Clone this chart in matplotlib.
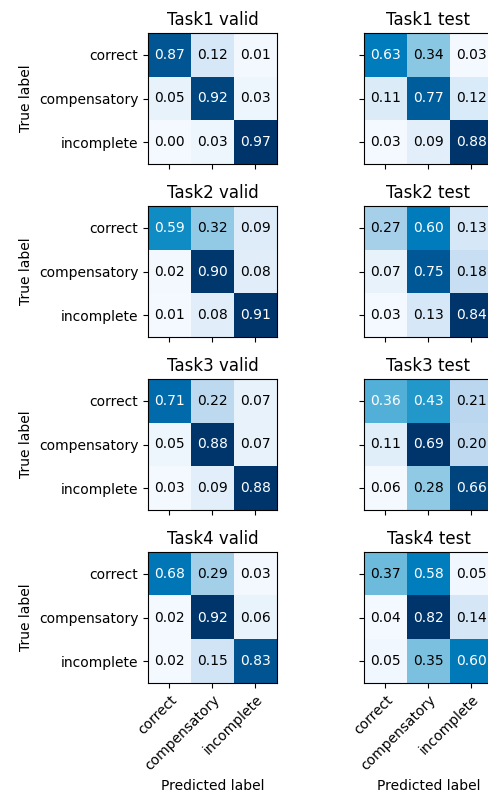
import numpy as np
import matplotlib
matplotlib.use("Agg")
import matplotlib.pyplot as plt
from matplotlib.colors import ListedColormap, rgb_to_hsv, hsv_to_rgb

classes = ["correct", "compensatory", "incomplete"]

task1_valid = [[0.87, 0.12, 0.01], [0.05, 0.92, 0.03], [0.00, 0.03, 0.97]]
task1_test = [[0.63, 0.34, 0.03], [0.11, 0.77, 0.12], [0.03, 0.09, 0.88]]
task2_valid = [[0.59, 0.32, 0.09], [0.02, 0.90, 0.08], [0.01, 0.08, 0.91]]
task2_test = [[0.27, 0.60, 0.13], [0.07, 0.75, 0.18], [0.03, 0.13, 0.84]]
task3_valid = [[0.71, 0.22, 0.07], [0.05, 0.88, 0.07], [0.03, 0.09, 0.88]]
task3_test = [[0.36, 0.43, 0.21], [0.11, 0.69, 0.20], [0.06, 0.28, 0.66]]
task4_valid = [[0.68, 0.29, 0.03], [0.02, 0.92, 0.06], [0.02, 0.15, 0.83]]
task4_test = [[0.37, 0.58, 0.05], [0.04, 0.82, 0.14], [0.05, 0.35, 0.60]]

panels = [
    ("Task1 valid", task1_valid, "Task1 test", task1_test),
    ("Task2 valid", task2_valid, "Task2 test", task2_test),
    ("Task3 valid", task3_valid, "Task3 test", task3_test),
    ("Task4 valid", task4_valid, "Task4 test", task4_test),
]

# A slightly more vivid variant of the "Blues" colormap
base = plt.cm.Blues(np.linspace(0, 1, 256))[:, :3]
hsv = rgb_to_hsv(base)
hsv[:, 0] = hsv[:, 0] - (6 / 360) * np.clip(hsv[:, 1] * 1.5, 0, 1)
hsv[:, 1] = np.clip(hsv[:, 1] * 1.35, 0, 1)
vivid_blues = ListedColormap(hsv_to_rgb(hsv), name="vivid_blues")

W, H = 489, 792
fig = plt.figure(figsize=(W / 100, H / 100), dpi=100)

ax_w = 129 / W
ax_h = 131 / H
col_left = [148 / W, 364 / W]
row_top_px = [33, 206, 379, 552]


def draw_cm(ax, cm, title, left_col, bottom_row):
    cm = np.array(cm)
    ax.imshow(cm, interpolation="nearest", cmap=vivid_blues, aspect="auto")
    ax.set_title(title, fontsize=12)
    ticks = np.arange(len(classes))
    ax.set_xticks(ticks)
    ax.set_yticks(ticks)
    if bottom_row:
        ax.set_xticklabels(classes, rotation=45, ha="right", rotation_mode="anchor", fontsize=10)
        ax.set_xlabel("Predicted label", fontsize=10)
    else:
        ax.set_xticklabels([])
    if left_col:
        ax.set_yticklabels(classes, fontsize=10)
        ax.set_ylabel("True label", fontsize=10)
    else:
        ax.set_yticklabels([])
    thresh = cm.max() / 2.0
    for i in range(cm.shape[0]):
        for j in range(cm.shape[1]):
            ax.text(j, i, f"{cm[i, j]:.2f}", ha="center", va="center", fontsize=10,
                    color="white" if cm[i, j] > thresh else "black")


for r, (t_valid, m_valid, t_test, m_test) in enumerate(panels):
    bottom = 1 - (row_top_px[r] + 131) / H
    ax1 = fig.add_axes([col_left[0], bottom, ax_w, ax_h])
    draw_cm(ax1, m_valid, t_valid, True, r == 3)
    ax2 = fig.add_axes([col_left[1], bottom, ax_w, ax_h])
    draw_cm(ax2, m_test, t_test, False, r == 3)

fig.savefig("out.png", dpi=100)
